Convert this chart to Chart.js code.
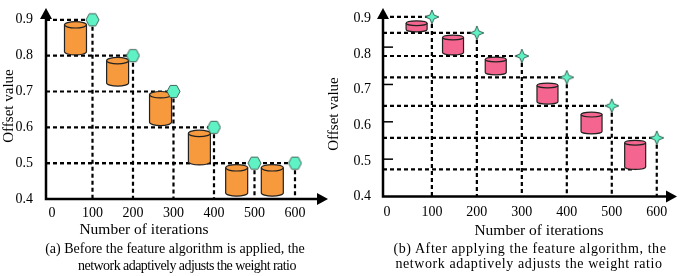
<!DOCTYPE html>
<html>
<head>
<meta charset="utf-8">
<script src="https://cdn.jsdelivr.net/npm/chart.js@4.4.1/dist/chart.umd.min.js"></script>
<style>
  html, body { margin: 0; padding: 0; background: #fff; }
  #wrap { position: relative; width: 685px; height: 276px; overflow: hidden;
          font-family: "Liberation Serif", "Times New Roman", serif; color: #000; }
  canvas { position: absolute; top: 0; }
  .lbl { position: absolute; width: 320px; text-align: center; white-space: nowrap; }
</style>
</head>
<body>
<div id="wrap">
  <canvas id="chartA" width="340" height="276" style="left:0px"></canvas>
  <canvas id="chartB" width="345" height="276" style="left:340px"></canvas>
</div>
<script>
// --- data ---
const xTickValues = [0, 100, 200, 300, 400, 500, 600];
const yTickValues = [0.4, 0.5, 0.6, 0.7, 0.8, 0.9];

// (a) before the feature algorithm
const iterA = [100, 200, 300, 400, 500, 600];
const offsetA = [0.9, 0.8, 0.7, 0.6, 0.5, 0.5];
const cylXA = [58, 162, 268, 364, 456, 544];
const cylLowA = [0.802, 0.715, 0.605, 0.495, 0.408, 0.408];
const cylHighA = [0.895, 0.795, 0.700, 0.592, 0.496, 0.496];

// (b) after applying the feature algorithm
const iterB = [100, 200, 300, 400, 500, 600];
const offsetB = [0.905, 0.86, 0.795, 0.735, 0.655, 0.565];
const cylXB = [66, 147, 242, 357, 455, 552];
const cylLowB = [0.863, 0.798, 0.742, 0.660, 0.576, 0.476];
const cylHighB = [0.894, 0.854, 0.792, 0.719, 0.637, 0.558];
const baseLineB = 0.476;
const axisMarksB = [0.82, 0.715, 0.61, 0.505];

const SERIF = '"Liberation Serif", "Times New Roman", serif';
const MINT = '#5ff2c4';

// --- marker images ---
function hexagon(size) {
  const c = document.createElement('canvas');
  c.width = c.height = size + 2;
  const g = c.getContext('2d'), m = (size + 2) / 2, r = size / 2;
  g.beginPath();
  for (let i = 0; i < 6; i++) {
    const a = Math.PI / 3 * i;
    g.lineTo(m + r * Math.cos(a), m + r * Math.sin(a) * 1.08);
  }
  g.closePath();
  g.fillStyle = MINT; g.fill();
  g.strokeStyle = '#35574c'; g.lineWidth = 0.9; g.stroke();
  return c;
}

function star4(size) {
  const c = document.createElement('canvas');
  c.width = c.height = size + 2;
  const g = c.getContext('2d'), m = (size + 2) / 2, R = size / 2, ri = size * 0.2;
  g.beginPath();
  for (let i = 0; i < 8; i++) {
    const a = -Math.PI / 2 + Math.PI / 4 * i;
    const r = i % 2 ? ri : R;
    g.lineTo(m + r * Math.cos(a), m + r * Math.sin(a));
  }
  g.closePath();
  g.fillStyle = MINT; g.fill();
  g.strokeStyle = '#2f5a4c'; g.lineWidth = 0.9; g.stroke();
  return c;
}

function drawCylinder(ctx, bar, fill, ry) {
  const top = Math.min(bar.y, bar.base), bot = Math.max(bar.y, bar.base);
  const rx = bar.width / 2, l = bar.x - rx, r = bar.x + rx;
  const t = top + ry, b = bot - ry;
  ctx.fillStyle = fill;
  ctx.strokeStyle = '#222';
  ctx.lineWidth = 1.2;
  ctx.beginPath();
  ctx.moveTo(l, t);
  ctx.lineTo(l, b);
  ctx.ellipse(bar.x, b, rx, ry, 0, Math.PI, 0, true);
  ctx.lineTo(r, t);
  ctx.ellipse(bar.x, t, rx, ry, 0, 0, Math.PI, true);
  ctx.closePath();
  ctx.fill();
  ctx.stroke();
  ctx.beginPath();
  ctx.ellipse(bar.x, t, rx, ry, 0, 0, Math.PI, false);
  ctx.stroke();
}

function schematic(o) {
  return {
    id: 'schematic',
    beforeDatasetsDraw(chart) {
      const {ctx, chartArea: a, scales: {x, y}} = chart;
      const bars = chart.getDatasetMeta(0).data;
      const marks = chart.getDatasetMeta(1).data;
      ctx.save();
      // dashed drop lines
      ctx.strokeStyle = '#000';
      ctx.lineWidth = 2.2;
      ctx.setLineDash([4, 3]);
      marks.forEach(p => {
        ctx.beginPath();
        ctx.moveTo(a.left, p.y); ctx.lineTo(p.x, p.y);
        ctx.stroke();
        ctx.beginPath();
        ctx.moveTo(p.x, p.y); ctx.lineTo(p.x, a.bottom);
        ctx.stroke();
      });
      if (o.baseLine != null) {
        const yy = y.getPixelForValue(o.baseLine);
        ctx.beginPath();
        ctx.moveTo(a.left, yy); ctx.lineTo(bars[bars.length - 1].x, yy);
        ctx.stroke();
      }
      ctx.setLineDash([]);
      // axes with arrows
      ctx.strokeStyle = '#000';
      ctx.fillStyle = '#000';
      ctx.lineWidth = 2.5;
      ctx.beginPath();
      ctx.moveTo(a.left, a.top + 8);
      ctx.lineTo(a.left, a.bottom);
      ctx.lineTo(a.right - 8, a.bottom);
      ctx.stroke();
      ctx.beginPath();
      ctx.moveTo(a.left, a.top); ctx.lineTo(a.left - 6, a.top + 11); ctx.lineTo(a.left + 6, a.top + 11);
      ctx.closePath(); ctx.fill();
      ctx.beginPath();
      ctx.moveTo(a.right, a.bottom); ctx.lineTo(a.right - 11, a.bottom - 6); ctx.lineTo(a.right - 11, a.bottom + 6);
      ctx.closePath(); ctx.fill();
      if (o.axisMarks) {
        ctx.lineWidth = 1.5;
        o.axisMarks.forEach(v => {
          const yy = y.getPixelForValue(v);
          ctx.beginPath(); ctx.moveTo(a.left, yy); ctx.lineTo(a.left + 10, yy); ctx.stroke();
        });
      }
      // cylinders
      bars.forEach(b => drawCylinder(ctx, b, o.fill, o.ry));
      ctx.restore();
    }
  };
}

function buildChart(id, o) {
  const font = {family: SERIF, size: 14};
  return new Chart(document.getElementById(id), {
    type: 'bar',
    data: {
      datasets: [
        {
          type: 'bar',
          data: o.cylX.map((x, i) => ({x: x, y: [o.cylLow[i], o.cylHigh[i]]})),
          backgroundColor: 'rgba(0,0,0,0)',
          borderWidth: 0,
          barThickness: o.barWidth
        },
        {
          type: 'line',
          data: o.iter.map((x, i) => ({x: x, y: o.offset[i]})),
          showLine: false,
          pointStyle: o.marker,
          pointRadius: 7
        }
      ]
    },
    options: {
      responsive: false,
      animation: false,
      devicePixelRatio: 1,
      layout: {padding: o.padding},
      plugins: {legend: {display: false}, tooltip: {enabled: false}},
      scales: {
        x: {
          type: 'linear', min: o.xMin, max: o.xMax, offset: false,
          grid: {display: false, drawTicks: false},
          border: {display: false},
          ticks: {font: font, color: '#000', padding: o.xPad, maxRotation: 0, autoSkip: false,
                  callback: v => String(v)},
          afterBuildTicks: s => { s.ticks = xTickValues.map(v => ({value: v})); },
          afterFit: s => { s.height = 40; s.paddingLeft = 0; s.paddingRight = 0; }
        },
        y: {
          type: 'linear', min: 0.4, max: o.yMax,
          grid: {display: false, drawTicks: false},
          border: {display: false},
          ticks: {font: font, color: '#000', padding: o.yPad, callback: v => v.toFixed(1)},
          afterBuildTicks: s => { s.ticks = yTickValues.map(v => ({value: v})); },
          afterFit: s => { s.width = o.yWidth; s.paddingTop = 0; s.paddingBottom = 0; }
        }
      }
    },
    plugins: [schematic(o)]
  });
}

buildChart('chartA', {
  iter: iterA, offset: offsetA, cylX: cylXA, cylLow: cylLowA, cylHigh: cylHighA,
  marker: hexagon(13), fill: '#f7993d', ry: 3.2, barWidth: 22,
  xMin: -14.8, xMax: 681.5, yMax: 0.933,
  padding: {left: 0, top: 2, right: 12, bottom: 37},
  yWidth: 46, xPad: 5.5, yPad: 13
});

buildChart('chartB', {
  iter: iterB, offset: offsetB, cylX: cylXB, cylLow: cylLowB, cylHigh: cylHighB,
  marker: star4(14), fill: '#f4668f', ry: 2.4, barWidth: 21,
  baseLine: baseLineB, axisMarks: axisMarksB,
  xMin: -8.7, xMax: 645, yMax: 0.930,
  padding: {left: 0, top: 1, right: 1, bottom: 39.5},
  yWidth: 43, xPad: 7, yPad: 12
});

// --- text labels ---
function label(text, cx, cy, size, rotate, spacing) {
  const d = document.createElement('div');
  d.className = 'lbl';
  d.textContent = text;
  const lh = Math.round(size * 1.2);
  d.style.fontSize = size + 'px';
  d.style.lineHeight = lh + 'px';
  d.style.left = (cx - 160) + 'px';
  d.style.top = (cy - lh / 2) + 'px';
  if (spacing) d.style.letterSpacing = spacing + 'px';
  if (rotate) d.style.transform = 'rotate(-90deg)';
  document.getElementById('wrap').appendChild(d);
}

label('Offset value', 8, 105.5, 15, true);
label('Offset value', 333, 114, 15, true);
label('Number of iterations', 144, 228, 15.5);
label('Number of iterations', 539, 229, 15.5);
label('(a) Before the feature algorithm is applied, the', 175, 248.3, 14);
label('network adaptively adjusts the weight ratio', 187, 265.7, 14, false, -0.55);
label('(b) After applying the feature algorithm, the', 530, 248, 14, false, 0.6);
label('network adaptively adjusts the weight ratio', 529, 263.5, 14, false, 0.6);
</script>
</body>
</html>
